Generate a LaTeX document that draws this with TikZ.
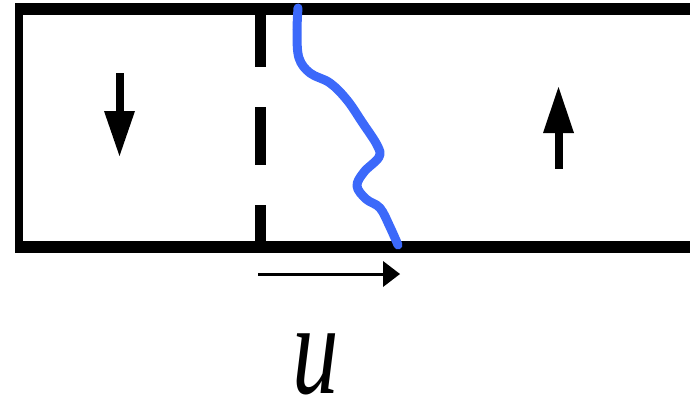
\documentclass[tikz,border=0pt]{standalone}
\usepackage{fontspec}
\usepackage{graphicx}
\setmainfont{Liberation Serif}
\definecolor{wave}{RGB}{60,105,250}
\begin{document}
\begin{tikzpicture}[x=1pt,y=-1pt,
  wall/.style={line width=12pt},
  solid head/.style={fill=black,draw=none},
  shaft/.style={line width=8pt}]
\useasboundingbox (0,0) rectangle (690,402);
% channel walls
\coordinate (tl) at (15,9);
\coordinate (tr) at (690,9);
\coordinate (bl) at (15,247);
\coordinate (br) at (690,247);
\draw[wall] (tl) -- (tr);
\draw[wall] (bl) -- (br);
\draw[line width=8pt] (19,3) -- (19,253);
% dashed barrier
\coordinate (dtop) at (260,9);
\coordinate (dbot) at (260,247);
\draw[line width=11pt, dash pattern=on 58pt off 40pt] (dtop) -- (dbot);
% blue wavy front
\draw[wave, line width=9pt, line cap=round, line join=round]
  plot[smooth, tension=0.6] coordinates {(298,8) (297,33) (299,58) (310,73) (330,83) (347,100) (362,122) (377,145) (379,157) (364,172) (357,186) (366,199) (380,208) (390,227) (398,245)};
% down arrow
\fill (116,73) rectangle (124,112);
\fill[solid head] (104,111) -- (135,111) -- (119.5,156) -- cycle;
% up arrow
\fill (555,169) rectangle (563,132);
\fill[solid head] (543,133) -- (574,133) -- (558.5,87) -- cycle;
% velocity arrow
\coordinate (ua) at (258,274);
\coordinate (ub) at (400,274);
\draw[line width=3pt] (ua) -- (384,274);
\fill[solid head] (383,261) -- (383,287) -- (ub) -- cycle;
\node[anchor=base, inner sep=0pt] (u) at (316,393)
  {\scalebox{1}[1.4]{\fontsize{93}{93}\selectfont\itshape u}};
\end{tikzpicture}
\end{document}
